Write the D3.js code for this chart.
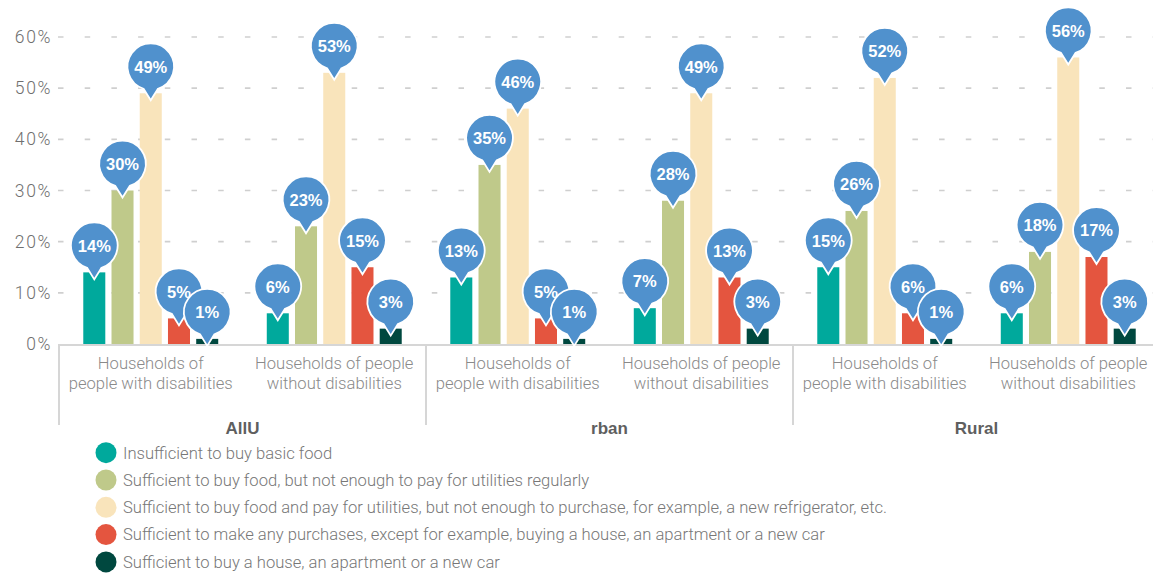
<!DOCTYPE html>
<html>
<head>
<meta charset="utf-8">
<script src="https://cdn.jsdelivr.net/npm/d3@7"></script>
<style>
  body { margin: 0; background: #fff; }
  svg { display: block; font-family: Roboto, "Liberation Sans", Arial, sans-serif; }
</style>
</head>
<body>
<script>
// chart data
const sections = ['AllU', 'rban', 'Rural'];
const subgroups = ['Households of\npeople with disabilities', 'Households of people\nwithout disabilities'];
const series = [
  'Insufficient to buy basic food',
  'Sufficient to buy food, but not enough to pay for utilities regularly',
  'Sufficient to buy food and pay for utilities, but not enough to purchase, for example, a new refrigerator, etc.',
  'Sufficient to make any purchases, except for example, buying a house, an apartment or a new car',
  'Sufficient to buy a house, an apartment or a new car'
];
const colors = ['#00a99c', '#bfc98a', '#f9e4bb', '#e4553f', '#00483f'];
// one row per section/subgroup, one value per series
const allWith = [14, 30, 49, 5, 1];
const allWithout = [6, 23, 53, 15, 3];
const urbanWith = [13, 35, 46, 5, 1];
const urbanWithout = [7, 28, 49, 13, 3];
const ruralWith = [15, 26, 52, 6, 1];
const ruralWithout = [6, 18, 56, 17, 3];
const yTicks = [0, 10, 20, 30, 40, 50, 60];

const rows = [allWith, allWithout, urbanWith, urbanWithout, ruralWith, ruralWithout];

const W = 1153, H = 576;
const left = 59, right = 1160, base = 344;

const svg = d3.select('body').append('svg')
  .attr('width', W)
  .attr('height', H);

const y = d3.scaleLinear().domain([0, 60]).range([base, 37]);

const groupKeys = d3.range(rows.length);
const x0 = d3.scaleBand().domain(groupKeys).range([left, right]);
const xs = d3.scaleBand().domain(d3.range(sections.length)).range([left, right]);
const x1 = d3.scaleBand().domain(d3.range(series.length))
  .range([0, x0.bandwidth()])
  .paddingInner(0.22)
  .paddingOuter(0.86);

// gridlines
svg.append('g')
  .selectAll('line')
  .data(yTicks.filter(d => d > 0))
  .enter().append('line')
  .attr('x1', left - 1)
  .attr('x2', W)
  .attr('y1', d => y(d))
  .attr('y2', d => y(d))
  .attr('stroke', '#cfcfcf')
  .attr('stroke-width', 1.6)
  .attr('stroke-dasharray', '5.5,21.2');

// y axis labels
const yAxis = svg.append('g')
  .attr('transform', `translate(${left - 7},0)`)
  .call(d3.axisLeft(y).tickValues(yTicks).tickSize(0).tickPadding(0).tickFormat(d => d + '%'));
yAxis.select('.domain').remove();
yAxis.selectAll('text')
  .attr('font-size', 17.5)
  .attr('fill', '#6f6f6f')
  .attr('font-weight', 300)
  .style('letter-spacing', '1.6px')
  .style('font-family', 'Roboto, "Liberation Sans", sans-serif');

// baseline and section dividers
svg.append('line')
  .attr('x1', left - 1).attr('x2', W)
  .attr('y1', base + 1).attr('y2', base + 1)
  .attr('stroke', '#d6d6d6').attr('stroke-width', 2);

svg.append('g')
  .selectAll('line')
  .data(d3.range(sections.length))
  .enter().append('line')
  .attr('x1', d => xs(d)).attr('x2', d => xs(d))
  .attr('y1', base).attr('y2', 425)
  .attr('stroke', '#d6d6d6').attr('stroke-width', 2);

// bars
const groups = svg.append('g')
  .selectAll('g')
  .data(rows)
  .enter().append('g')
  .attr('transform', (d, i) => `translate(${x0(i)},0)`);

groups.selectAll('rect')
  .data(d => d)
  .enter().append('rect')
  .attr('x', (d, i) => x1(i))
  .attr('y', d => y(d))
  .attr('width', x1.bandwidth())
  .attr('height', d => base - y(d))
  .attr('fill', (d, i) => colors[i]);

// bubbles
const bubblePath = (() => {
  const r = 23.3, c = -26.7, a = 18 * Math.PI / 180;
  const px = r * Math.sin(a), py = c + r * Math.cos(a);
  return `M${px},${py}A${r},${r} 0 1 0 ${-px},${py}L0,7Z`;
})();

const bubbleGroups = svg.append('g')
  .selectAll('g')
  .data(rows)
  .enter().append('g')
  .attr('transform', (d, i) => `translate(${x0(i)},0)`);

const bubble = bubbleGroups.selectAll('g')
  .data(d => d)
  .enter().append('g')
  .attr('transform', (d, i) => `translate(${x1(i) + x1.bandwidth() / 2},${y(d)})`);

bubble.append('path')
  .attr('d', bubblePath)
  .attr('fill', '#5091cd')
  .attr('stroke', '#fff')
  .attr('stroke-width', 1.8);

bubble.append('text')
  .attr('y', -26.7)
  .attr('dy', '0.36em')
  .attr('text-anchor', 'middle')
  .attr('fill', '#fff')
  .attr('font-size', 16.5)
  .attr('font-weight', 'bold')
  .style('font-family', '"Liberation Sans", Arial, sans-serif')
  .text(d => d + '%');

// subgroup labels
svg.append('g')
  .selectAll('text')
  .data(groupKeys)
  .enter().append('text')
  .attr('x', d => x0(d) + x0.bandwidth() / 2)
  .attr('y', 369)
  .attr('text-anchor', 'middle')
  .attr('fill', '#8a8a8a')
  .attr('font-size', 16.6)
  .attr('font-weight', 300)
  .each(function (d) {
    const lines = subgroups[d % 2].split('\n');
    d3.select(this).selectAll('tspan')
      .data(lines)
      .enter().append('tspan')
      .attr('x', x0(d) + x0.bandwidth() / 2)
      .attr('dy', (l, i) => i ? 20 : 0)
      .text(l => l);
  });

// section labels
svg.append('g')
  .selectAll('text')
  .data(sections)
  .enter().append('text')
  .attr('x', (d, i) => xs(i) + xs.bandwidth() / 2)
  .attr('y', 434)
  .attr('text-anchor', 'middle')
  .attr('fill', '#5f5f5f')
  .attr('font-size', 17)
  .attr('font-weight', 'bold')
  .style('font-family', '"Liberation Sans", Arial, sans-serif')
  .text(d => d);

// legend
const legend = svg.append('g')
  .selectAll('g')
  .data(series)
  .enter().append('g')
  .attr('transform', (d, i) => `translate(106,${452.7 + i * 27.3})`);

legend.append('circle')
  .attr('r', 10.5)
  .attr('fill', (d, i) => colors[i]);

legend.append('text')
  .attr('x', 17)
  .attr('dy', '0.35em')
  .attr('fill', '#777')
  .attr('font-size', 16.6)
  .attr('font-weight', 300)
  .text(d => d);
</script>
</body>
</html>
